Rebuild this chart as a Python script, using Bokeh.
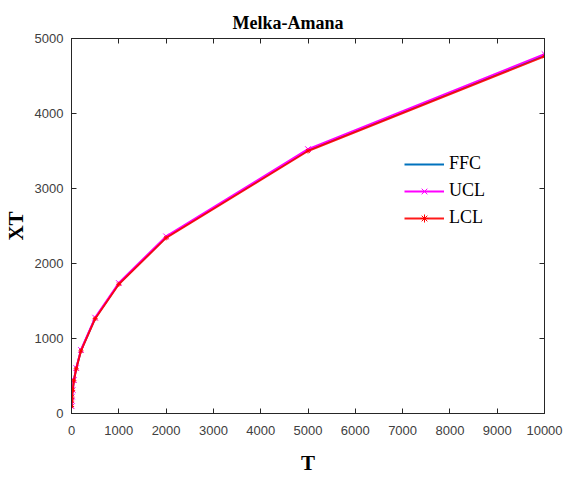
from bokeh.plotting import figure
from bokeh.models import Range1d, FixedTicker, LinearAxis, Legend, LegendItem, CustomJSTickFormatter
from bokeh.embed import file_html
from bokeh.resources import INLINE

T = [2, 5, 10, 25, 50, 100, 200, 500, 1000, 2000, 5000, 10000]
FFC = [95, 168, 222, 312, 440, 600, 840, 1270, 1730, 2350, 3510, 4775]
UCL = [97, 171, 225, 316, 445, 606, 847, 1278, 1740, 2362, 3525, 4792]
LCL = [94, 166, 220, 309, 437, 596, 835, 1264, 1723, 2342, 3500, 4762]
xticks = [0, 1000, 2000, 3000, 4000, 5000, 6000, 7000, 8000, 9000, 10000]
yticks = [0, 1000, 2000, 3000, 4000, 5000]

AX = "#262626"

p = figure(width=563, height=480, output_backend="svg", toolbar_location=None,
           x_range=Range1d(0, 10000), y_range=Range1d(0, 5000),
           min_border_left=70, min_border_right=19, min_border_top=38, min_border_bottom=67,
           title="Melka-Amana")
p.title.text_font = "Liberation Serif"
p.title.text_font_size = "18px"
p.title.text_font_style = "bold"
p.title.text_color = "black"
p.title.align = "left"
p.title.offset = 161
p.title.standoff = 12

p.grid.visible = False
p.outline_line_color = AX
p.outline_line_width = 1
p.background_fill_color = "white"
p.border_fill_color = "white"

for ax in (p.xaxis[0], p.yaxis[0]):
    ax.major_tick_in = 5
    ax.major_tick_out = 0
    ax.minor_tick_in = 0
    ax.minor_tick_out = 0
    ax.axis_line_color = AX
    ax.major_tick_line_color = AX
    ax.major_label_text_font = "Liberation Sans"
    ax.major_label_text_font_size = "13px"
    ax.major_label_text_color = "#404040"
    ax.axis_label_text_font = "Liberation Serif"
    ax.axis_label_text_font_style = "bold"
    ax.axis_label_text_font_size = "21px"
    ax.axis_label_text_color = "black"

p.xaxis[0].ticker = FixedTicker(ticks=xticks)
p.yaxis[0].ticker = FixedTicker(ticks=yticks)
p.xaxis[0].axis_label = "T"
p.yaxis[0].axis_label = "XT"
p.xaxis[0].major_label_standoff = 12
p.xaxis[0].axis_label_standoff = 13
p.yaxis[0].major_label_standoff = 8
p.yaxis[0].axis_label_standoff = 4

blank = CustomJSTickFormatter(code="return '';")
top = LinearAxis(ticker=FixedTicker(ticks=xticks), formatter=blank,
                 major_tick_in=5, major_tick_out=0, minor_tick_in=0, minor_tick_out=0,
                 axis_line_color=AX, major_tick_line_color=AX, major_label_standoff=0)
right = LinearAxis(ticker=FixedTicker(ticks=yticks), formatter=blank,
                   major_tick_in=5, major_tick_out=0, minor_tick_in=0, minor_tick_out=0,
                   axis_line_color=AX, major_tick_line_color=AX, major_label_standoff=0)
p.add_layout(top, "above")
p.add_layout(right, "right")

r1 = p.line(T, FFC, line_color="#0072BD", line_width=2)
r2 = p.line(T, UCL, line_color="#FF00FF", line_width=2)
r2m = p.scatter(T, UCL, marker="x", size=8, line_color="#FF00FF", line_width=1)
r3 = p.line(T, LCL, line_color="#FF0000", line_width=2, line_alpha=0.9)
r3m = p.scatter(T, LCL, marker="asterisk", size=5, line_color="#FF0000", line_width=1)

legend = Legend(items=[LegendItem(label="FFC", renderers=[r1]),
                       LegendItem(label="UCL", renderers=[r2, r2m]),
                       LegendItem(label="LCL", renderers=[r3, r3m])],
                location=(328, 180), border_line_alpha=0, background_fill_alpha=0,
                glyph_width=40, glyph_height=20, label_height=20, spacing=6,
                padding=5, margin=0, label_text_font="Liberation Serif",
                label_text_font_size="18px", label_text_color="black", label_standoff=5)
p.add_layout(legend, "center")

open("out.html", "w").write(file_html(p, INLINE))
